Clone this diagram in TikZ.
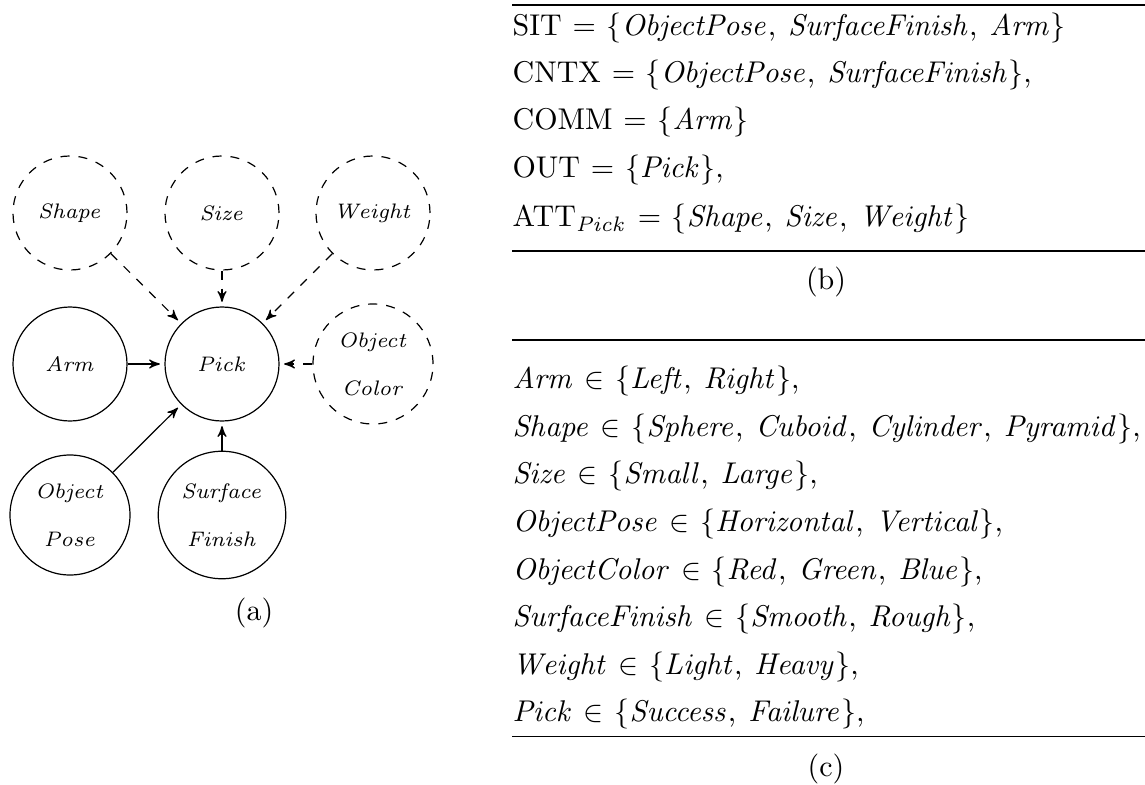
\documentclass[tikz,border=0pt]{standalone}
\usepackage{amsmath}
\usetikzlibrary{arrows}
\newcommand{\csep}{\text{,\hspace{4pt}}}
\begin{document}
\begin{tikzpicture}[x=0.33333pt, y=-0.33333pt,
  var/.style={circle, draw, inner sep=0pt, minimum size=38pt,
    align=center, font=\fontsize{7.5}{16}\selectfont},
  latent/.style={var, dashed},
  link/.style={-stealth', shorten >=1.5pt},
  latentlink/.style={link, dashed},
  row/.style={anchor=base west, inner sep=0pt,
    execute at begin node={\thickmuskip=6.5mu plus 2mu}},
  captext/.style={anchor=base, inner sep=0pt},
  rulex/.style={line width=0.5pt}]
\useasboundingbox (0,0) rectangle (1145,784);

% (a) network
\node[latent] (shape)  at (70,213)  {$\mathit{Shape}$};
\node[latent] (size)   at (222,213) {$\mathit{Size}$};
\node[latent] (weight) at (373,213) {$\mathit{Weight}$};
\node[var]    (arm)    at (70,364)  {$\mathit{Arm}$};
\node[var]    (pick)   at (222,364) {$\mathit{Pick}$};
\node[latent, minimum size=40pt] (color) at (373,364) {$\mathit{Object}$\\$\mathit{Color}$};
\node[var, minimum size=40pt]    (pose)  at (70,515)  {$\mathit{Object}$\\$\mathit{Pose}$};
\node[var, minimum size=42.5pt]  (surf)  at (222,515) {$\mathit{Surface}$\\$\mathit{Finish}$};

\draw[latentlink] (shape)  -- (pick);
\draw[latentlink] (size)   -- (pick);
\draw[latentlink] (weight) -- (pick);
\draw[latentlink] (color)  -- (pick);
\draw[link] (arm)  -- (pick);
\draw[link] (pose) -- (pick);
\draw[link] (surf) -- (pick);

\node[captext] (capa) at (254,620.5) {(a)};

% (b) variable sets
\coordinate (b1) at (512,5);
\coordinate (b1e) at (1145,5);
\coordinate (b2) at (512,251);
\coordinate (b2e) at (1145,251);
\draw[rulex] (b1) -- (b1e);
\node[row] (sit)  at (512,35.7)  {$\mathrm{SIT} = \{\mathit{ObjectPose}\csep\mathit{SurfaceFinish}\csep\mathit{Arm}\}$};
\node[row] (cntx) at (512,82.7)  {$\mathrm{CNTX} = \{\mathit{ObjectPose}\csep\mathit{SurfaceFinish}\}$,};
\node[row] (comm) at (512,130)   {$\mathrm{COMM} = \{\mathit{Arm}\}$};
\node[row] (out)  at (512,178)   {$\mathrm{OUT} = \{\mathit{Pick}\}$,};
\node[row] (att)  at (512,227)   {$\mathrm{ATT}_{\mathit{Pick}} = \{\mathit{Shape}\csep\mathit{Size}\csep\mathit{Weight}\}$};
\draw[rulex] (b2) -- (b2e);
\node[captext] (capb) at (826,290) {(b)};

% (c) variable domains
\coordinate (c1) at (512,340);
\coordinate (c1e) at (1145,340);
\coordinate (c2) at (512,736.7);
\coordinate (c2e) at (1145,736.7);
\draw[rulex] (c1) -- (c1e);
\node[row] (d1) at (512,388.3) {$\mathit{Arm} \in \{\mathit{Left}\csep\mathit{Right}\}$,};
\node[row] (d2) at (512,436.7) {$\mathit{Shape} \in \{\mathit{Sphere}\csep\mathit{Cuboid}\csep\mathit{Cylinder}\csep\mathit{Pyramid}\}$,};
\node[row] (d3) at (512,483)   {$\mathit{Size} \in \{\mathit{Small}\csep\mathit{Large}\}$,};
\node[row] (d4) at (512,531.7) {$\mathit{ObjectPose} \in \{\mathit{Horizontal}\csep\mathit{Vertical}\}$,};
\node[row] (d5) at (512,579)   {$\mathit{ObjectColor} \in \{\mathit{Red}\csep\mathit{Green}\csep\mathit{Blue}\}$,};
\node[row] (d6) at (512,626.7) {$\mathit{SurfaceFinish} \in \{\mathit{Smooth}\csep\mathit{Rough}\}$,};
\node[row] (d7) at (512,674)   {$\mathit{Weight} \in \{\mathit{Light}\csep\mathit{Heavy}\}$,};
\node[row] (d8) at (512,721.7) {$\mathit{Pick} \in \{\mathit{Success}\csep\mathit{Failure}\}$,};
\draw[rulex] (c2) -- (c2e);
\node[captext] (capc) at (826,776) {(c)};
\end{tikzpicture}
\end{document}
